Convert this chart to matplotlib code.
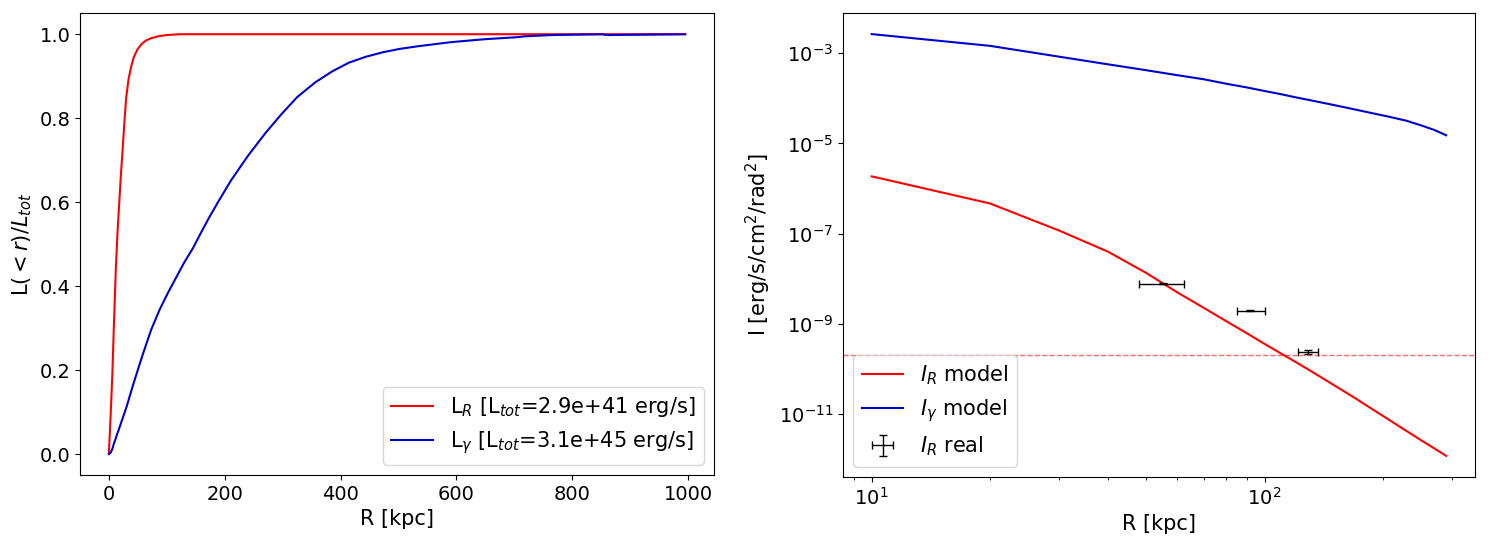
import numpy as np
import matplotlib
matplotlib.use("Agg")
import matplotlib.pyplot as plt

# cumulative luminance profiles (left panel)
r_cum_R = [0, 3, 6, 9, 12, 15, 18, 21, 24, 27, 30, 34, 38, 43, 49, 56, 64, 72,
           85, 100, 124, 200, 400, 600, 800, 995]
L_R = [0, 0.09, 0.19, 0.32, 0.44, 0.53, 0.60, 0.67, 0.73, 0.795, 0.85, 0.893,
       0.92, 0.945, 0.963, 0.976, 0.985, 0.99, 0.995, 0.998, 1.0, 1.0, 1.0,
       1.0, 1.0, 1.0]

r_cum_g = [0, 3, 6, 9, 15, 21, 30, 43, 58, 73, 88, 102, 116, 130, 145, 159,
           173, 188, 211, 240, 270, 297, 325, 356, 385, 414, 443, 473, 502,
           532, 561, 590, 648, 706, 718, 765, 810, 853, 858, 995]
L_g = [0, 0.003, 0.012, 0.026, 0.05, 0.074, 0.11, 0.17, 0.235, 0.296, 0.345,
       0.384, 0.42, 0.456, 0.49, 0.527, 0.563, 0.599, 0.652, 0.71, 0.764, 0.808,
       0.85, 0.885, 0.911, 0.932, 0.946, 0.957, 0.965, 0.971, 0.976, 0.981,
       0.988, 0.993, 0.995, 0.998, 0.999, 1.0, 0.998, 1.0]

# surface brightness profiles (right panel)
r_mod = [10, 20, 30, 40, 50, 60, 70, 80, 90, 100, 110, 120, 130, 150, 170,
         190, 210, 230, 250, 270, 290]
logI_R = [-5.73, -6.33, -6.93, -7.40, -7.87, -8.30, -8.64, -8.94, -9.20, -9.44,
          -9.65, -9.84, -10.02, -10.35, -10.64, -10.91, -11.15, -11.37, -11.57,
          -11.75, -11.92]
logI_g = [-2.58, -2.84, -3.08, -3.25, -3.38, -3.49, -3.58, -3.68, -3.76, -3.84,
          -3.91, -3.98, -4.04, -4.15, -4.25, -4.34, -4.42, -4.50, -4.60, -4.70,
          -4.82]

r_obs = [55, 92, 129]
r_lo = [48, 85, 122]
r_hi = [62.5, 100, 136.5]
I_obs = [7.8e-9, 1.95e-9, 2.4e-10]
I_err = [0.2e-9, 0.05e-9, 0.25e-10]
I_limit = 2.1e-10

plt.rcParams['font.size'] = 14

fig = plt.figure(figsize=(14.88, 5.42), dpi=100)
ax1 = fig.add_axes([0.0538, 0.1236, 0.426, 0.852])
ax2 = fig.add_axes([0.5665, 0.120, 0.4247, 0.856])

ax1.plot(r_cum_R, L_R, color='red', label=r'L$_R$ [L$_{tot}$=2.9e+41 erg/s]')
ax1.plot(r_cum_g, L_g, color='mediumblue', label=r'L$_\gamma$ [L$_{tot}$=3.1e+45 erg/s]')
ax1.set_xlabel('R [kpc]', fontsize=15)
ax1.set_ylabel(r'L$(<r)/L_{tot}$', fontsize=15)
ax1.legend(loc='lower right', fontsize=15)

xerr = [np.array(r_obs) - np.array(r_lo), np.array(r_hi) - np.array(r_obs)]
ax2.plot(r_mod, 10 ** np.array(logI_R), color='red', label=r'$I_R$ model')
ax2.plot(r_mod, 10 ** np.array(logI_g), color='mediumblue', label=r'$I_\gamma$ model')
ax2.errorbar(r_obs, I_obs, xerr=xerr, yerr=I_err, fmt='none', ecolor='black',
             elinewidth=1, capsize=3, label=r'$I_R$ real')
ax2.axhline(I_limit, color='red', ls='--', lw=1, alpha=0.6)
ax2.set_xscale('log')
ax2.set_yscale('log')
ax2.set_xlabel('R [kpc]', fontsize=15)
ax2.set_ylabel(r'I [erg/s/cm$^2$/rad$^2$]', fontsize=15)
ax2.legend(loc='lower left', fontsize=15)

fig.savefig('out.png', dpi=100)
